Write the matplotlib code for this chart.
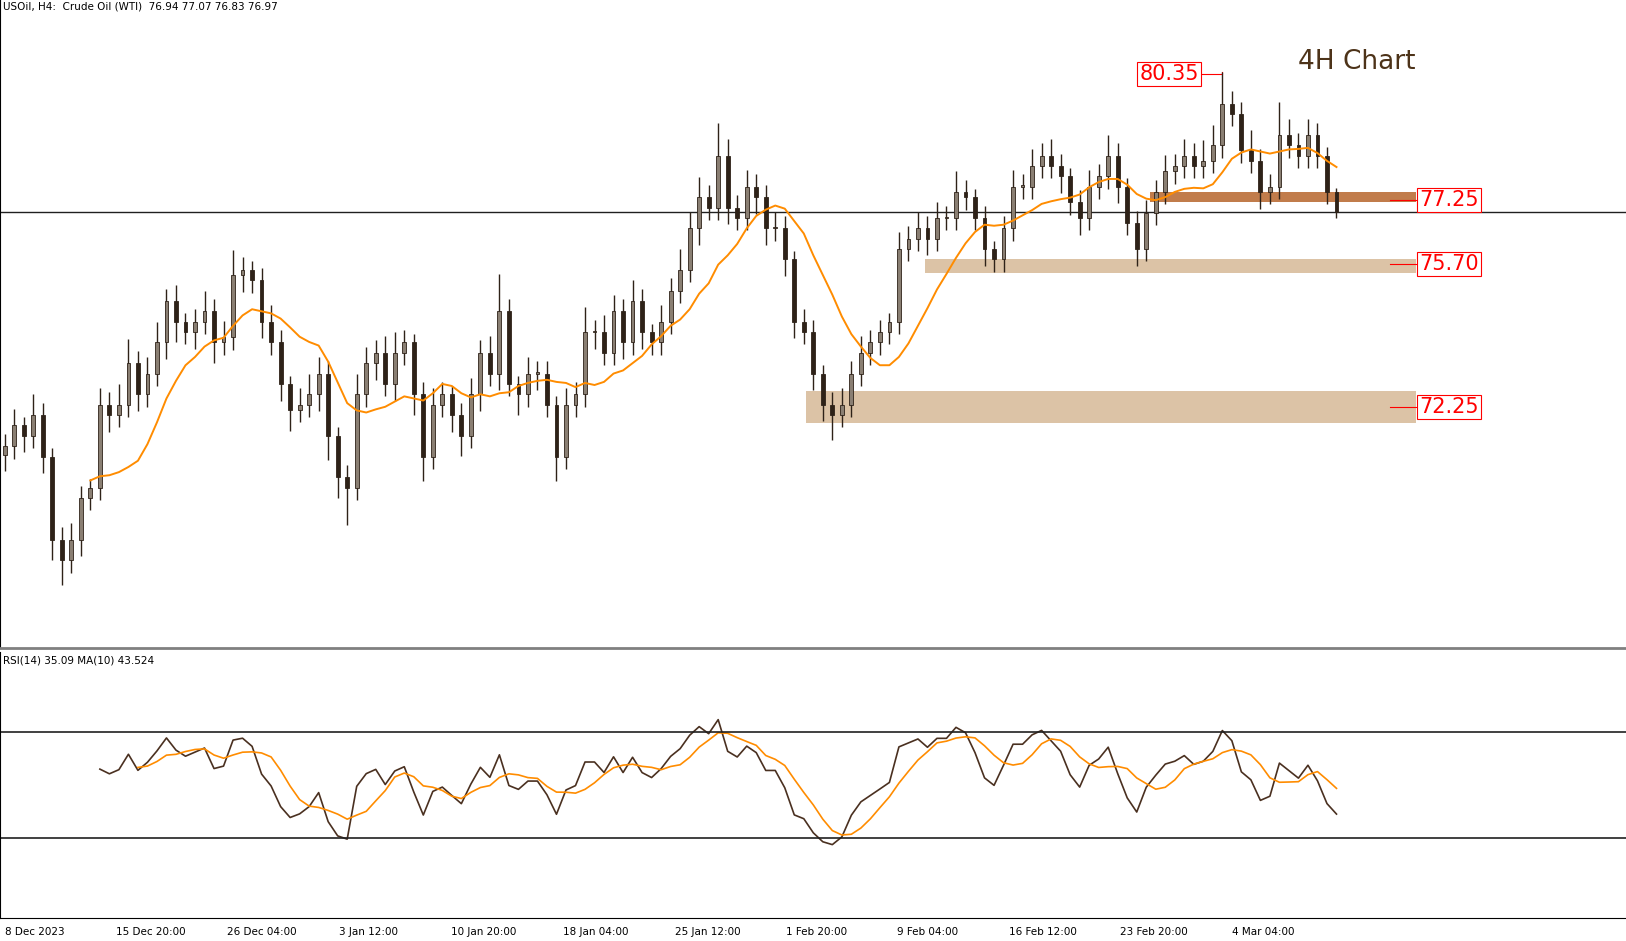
import matplotlib.pyplot as plt
import numpy as np

# closes (approx, 2-bar resolution)
closes = [
    71.29, 71.80, 71.55, 72.05, 71.04, 69.03, 68.53, 69.03, 70.04, 70.29,
    72.30, 72.05, 72.30, 73.30, 72.55, 73.05, 73.81, 74.81, 74.31, 74.06,
    74.31, 74.56, 73.81, 73.93, 75.44, 75.57, 75.31, 74.31, 73.81, 72.80,
    72.17, 72.30, 72.55, 73.05, 71.55, 70.54, 70.29, 72.55, 73.30, 73.56,
    72.80, 73.56, 73.81, 72.55, 71.04, 72.30, 72.55, 72.05, 71.55, 72.55,
    73.56, 73.05, 74.56, 72.80, 72.55, 73.05, 73.05, 72.30, 71.04, 72.30,
    72.55, 74.06, 74.06, 73.56, 74.56, 73.81, 74.81, 74.06, 73.81, 74.31,
    75.06, 75.57, 76.57, 77.32, 77.07, 78.33, 77.07, 76.82, 77.58, 77.32,
    76.57, 76.57, 75.82, 74.31, 74.06, 73.05, 72.30, 72.05, 72.30, 73.05,
    73.56, 73.81, 74.06, 74.31, 76.07, 76.32, 76.57, 76.32, 76.82, 76.82,
    77.45, 77.32, 76.82, 76.07, 75.82, 76.57, 77.58, 77.58, 78.08, 78.33,
    78.08, 77.83, 77.20, 76.82, 77.58, 77.83, 78.33, 77.58, 76.70, 76.07,
    76.95, 77.45, 77.95, 78.08, 78.33, 78.08, 78.20, 78.58, 79.59, 79.34,
    78.46, 78.20, 77.45, 77.58, 78.83, 78.58, 78.33, 78.83, 78.33, 77.45,
    76.97,
]
wick_up = [
    0.3, 0.4, 0.2, 0.5, 0.3, 0.2, 0.3, 0.4, 0.3, 0.2,
    0.4, 0.3, 0.5, 0.6, 0.3, 0.4, 0.5, 0.3, 0.4, 0.2,
    0.3, 0.5, 0.3, 0.4, 0.6, 0.3, 0.2, 0.3, 0.4, 0.3,
    0.2, 0.4, 0.5, 0.4, 0.3, 0.2, 0.3, 0.5, 0.4, 0.3,
    0.4, 0.5, 0.3, 0.2, 0.3, 0.4, 0.3, 0.2, 0.3, 0.4,
    0.3, 0.4, 0.9, 0.3, 0.2, 0.4, 0.3, 0.3, 0.2, 0.4,
    0.3, 0.6, 0.3, 0.4, 0.4, 0.3, 0.5, 0.3, 0.2, 0.4,
    0.3, 0.5, 0.4, 0.5, 0.3, 0.8, 0.4, 0.3, 0.4, 0.3,
    0.3, 0.4, 0.3, 0.2, 0.3, 0.3, 0.2, 0.3, 0.4, 0.3,
    0.4, 0.3, 0.3, 0.2, 0.4, 0.3, 0.4, 0.3, 0.4, 0.3,
    0.5, 0.3, 0.2, 0.3, 0.2, 0.3, 0.4, 0.3, 0.4, 0.3,
    0.4, 0.3, 0.2, 0.3, 0.4, 0.3, 0.5, 0.3, 0.2, 0.3,
    0.3, 0.3, 0.4, 0.3, 0.4, 0.3, 0.5, 0.5, 0.76, 0.3,
    0.3, 0.5, 0.3, 0.3, 0.8, 0.4, 0.3, 0.4, 0.3, 0.2,
    0.1,
]
wick_dn = [
    0.4, 0.3, 0.4, 0.3, 0.4, 0.5, 0.6, 0.3, 0.4, 0.3,
    0.3, 0.4, 0.3, 0.3, 0.4, 0.3, 0.3, 0.4, 0.5, 0.3,
    0.4, 0.3, 0.5, 0.3, 0.3, 0.4, 0.3, 0.4, 0.3, 0.4,
    0.5, 0.3, 0.3, 0.4, 0.6, 0.5, 0.9, 0.3, 0.3, 0.4,
    0.3, 0.4, 0.3, 0.5, 0.6, 0.3, 0.3, 0.4, 0.5, 0.3,
    0.4, 0.3, 0.4, 0.3, 0.5, 0.3, 0.4, 0.3, 0.6, 0.3,
    0.3, 0.3, 0.4, 0.3, 0.3, 0.4, 0.3, 0.4, 0.3, 0.3,
    0.3, 0.3, 0.3, 0.4, 0.3, 0.3, 0.4, 0.3, 0.3, 0.4,
    0.4, 0.3, 0.4, 0.4, 0.3, 0.4, 0.4, 0.6, 0.3, 0.3,
    0.3, 0.3, 0.3, 0.3, 0.3, 0.3, 0.3, 0.4, 0.3, 0.3,
    0.3, 0.3, 0.3, 0.4, 0.3, 0.3, 0.3, 0.3, 0.3, 0.3,
    0.3, 0.4, 0.3, 0.4, 0.3, 0.3, 0.3, 0.4, 0.3, 0.4,
    0.3, 0.3, 0.3, 0.3, 0.3, 0.3, 0.3, 0.3, 0.3, 0.3,
    0.3, 0.3, 0.4, 0.3, 0.3, 0.3, 0.3, 0.3, 0.3, 0.3,
    0.15,
]
date_labels = ["8 Dec 2023", "15 Dec 20:00", "26 Dec 04:00", "3 Jan 12:00",
               "10 Jan 20:00", "18 Jan 04:00", "25 Jan 12:00", "1 Feb 20:00",
               "9 Feb 04:00", "16 Feb 12:00", "23 Feb 20:00", "4 Mar 04:00"]
label_px = [0, 108, 215, 323, 432, 540, 648, 756, 863, 971, 1079, 1187]

levels = [77.25, 75.70, 72.25]
zones = [(77.20, 77.45), (75.49, 75.82), (71.85, 72.62)]
zone_start_px = [1108, 890, 775]
peak = 80.35
last_price = 76.97

BULL = "#8a7f73"
BEAR = "#2e2218"
ORANGE = "#ff8c00"
RED = "#ff0000"

closes = np.array(closes)
n = len(closes)
opens = np.concatenate([[closes[0] - 0.2], closes[:-1]])
highs = np.maximum(opens, closes) + np.array(wick_up)
lows = np.minimum(opens, closes) - np.array(wick_dn)
x = np.arange(n)

W, H = 1568, 907  # layout in reference pixels
px_per_bar = 1288 / (n - 1)
def bx(px):
    return px / px_per_bar

fig = plt.figure(figsize=(16.26, 9.41), dpi=100)
ax = fig.add_axes([0, 1 - 625 / H, 1, 625 / H])
ar = fig.add_axes([0, 1 - 885 / H, 1, 257 / H])
xmax = bx(W)

# candles
for i in range(n):
    up = closes[i] >= opens[i]
    ax.vlines(x[i], lows[i], highs[i], color=BEAR, lw=1, zorder=3)
    ax.bar(x[i], max(abs(closes[i] - opens[i]), 0.03), bottom=min(opens[i], closes[i]),
           width=0.4, color=BULL if up else BEAR, edgecolor=BEAR, lw=0.6, zorder=4)

ma = np.convolve(closes, np.ones(10) / 10, mode="valid")
ax.plot(x[9:], ma, color=ORANGE, lw=1.4, zorder=5)

# zones
zcol = ["#c17c4b", "#dcc3a6", "#dcc3a6"]
for (lo, hi), sp, c in zip(zones, zone_start_px, zcol):
    ax.fill_between([bx(sp), bx(1365)], lo, hi, color=c, lw=0, zorder=2)
ax.axhline(last_price, color="#202020", lw=1, zorder=1)

for lv in levels:
    ax.plot([bx(1340), bx(1366)], [lv, lv], color=RED, lw=0.8, zorder=6)
    ax.text(bx(1368), lv, f"{lv:.2f}", color=RED, fontsize=15, va="center", ha="left",
            bbox=dict(facecolor="white", edgecolor=RED, lw=0.8, pad=1.5), zorder=7)
ipk = int(np.argmax(highs))
ax.plot([bx(1155), x[ipk], x[ipk]], [peak - 0.05, peak - 0.05, highs[ipk]], color=RED, lw=0.8)
ax.text(bx(1155), peak - 0.05, f"{peak:.2f}", color=RED, fontsize=15, va="center", ha="right",
        bbox=dict(facecolor="white", edgecolor=RED, lw=0.8, pad=1.5), zorder=7)
ax.text(bx(1308), 82.10 - 60 / 39.8, "4H Chart", color="#4d3319", fontsize=19,
        ha="center", va="center")
ax.text(0.002, 0.997, "USOil, H4:  Crude Oil (WTI)  76.94 77.07 76.83 76.97",
        transform=ax.transAxes, fontsize=7.5, va="top", ha="left")

ax.set_xlim(-0.5, xmax)
ax.set_ylim(82.10 - 625 / 39.8, 82.10)
ax.set_xticks([])
ax.set_yticks([])
for s in ["top", "right"]:
    ax.spines[s].set_visible(False)
ax.spines["bottom"].set_color("#808080")
ax.spines["bottom"].set_linewidth(2)

# RSI
delta = np.diff(closes)
gain = np.where(delta > 0, delta, 0.0)
loss = np.where(delta < 0, -delta, 0.0)
p = 10
ag = np.zeros(len(delta)); al = np.zeros(len(delta))
ag[p - 1] = gain[:p].mean(); al[p - 1] = loss[:p].mean()
for i in range(p, len(delta)):
    ag[i] = (ag[i - 1] * (p - 1) + gain[i]) / p
    al[i] = (al[i - 1] * (p - 1) + loss[i]) / p
rsi = 100 - 100 / (1 + ag[p - 1:] / np.maximum(al[p - 1:], 1e-9))
rx = x[p:]
ar.plot(rx, rsi, color="#4a3020", lw=1.2)
rma = np.convolve(rsi, np.ones(5) / 5, mode="valid")
ar.plot(rx[4:], rma, color=ORANGE, lw=1.2)
ar.axhline(70, color="#202020", lw=1.2)
ar.axhline(30, color="#202020", lw=1.2)
ar.set_xlim(-0.5, xmax)
ar.set_ylim(0, 100)
ar.set_yticks([])
ar.set_xticks([bx(v) for v in label_px])
ar.set_xticklabels(date_labels, fontsize=7.5, ha="left")
ar.tick_params(axis="x", length=0, pad=6)
for s in ["top", "right"]:
    ar.spines[s].set_visible(False)
ar.text(0.002, 0.985, "RSI(14) 35.09 MA(10) 43.524", transform=ar.transAxes,
        fontsize=7.5, va="top", ha="left")

fig.savefig("out.png", dpi=100)
